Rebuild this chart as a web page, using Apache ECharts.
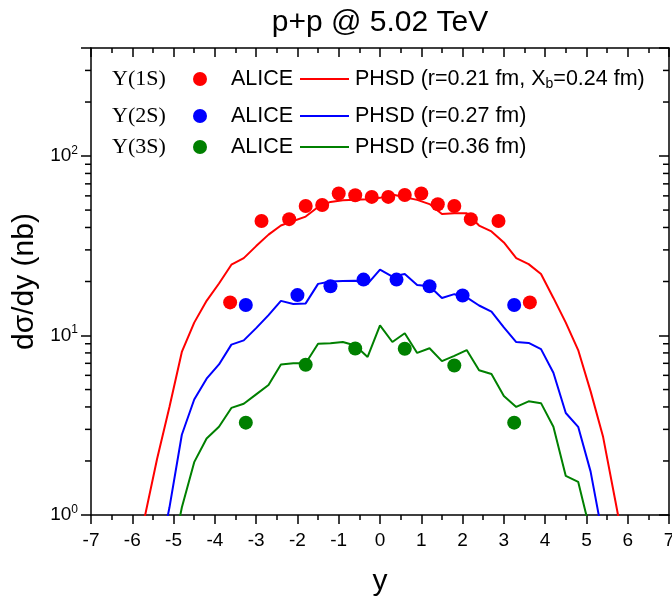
<!DOCTYPE html>
<html><head><meta charset="utf-8">
<script src="https://cdn.jsdelivr.net/npm/echarts@6/dist/echarts.min.js"></script>
<style>html,body{margin:0;padding:0;background:#fff}#c{width:672px;height:596px}</style>
</head><body><div id="c"></div>
<script>
// PHSD model rapidity grid
const phsdY = [-6.0,-5.7,-5.4,-5.1,-4.8,-4.5,-4.2,-3.9,-3.6,-3.3,-3.0,-2.7,-2.4,-2.1,-1.8,-1.5,-1.2,-0.9,-0.6,-0.3,0,0.3,0.6,0.9,1.2,1.5,1.8,2.1,2.4,2.7,3.0,3.3,3.6,3.9,4.2,4.5,4.8,5.1,5.4,5.7,6.0];
const phsd1S = [0.45,0.97,2.05,4.0,8.1,11.8,15.6,19.5,24.8,27,31.5,36.5,41,43.5,46,52,55.5,56.8,57,57.5,58.5,61,59,57,54,47.5,48,48,41,38,33,27,25,22,16.2,11.8,8.3,4.9,2.75,1.2,0.52];
const phsd2S = [null,null,0.5,1.1,2.8,4.4,5.75,6.9,8.9,9.4,11,13,15.6,15,15.1,19.4,20,20.1,20.2,19.4,23.3,21.3,22,19.1,18.8,16.2,17,16.3,14.7,13.6,11.1,9.2,9.1,8.4,6.2,3.7,3.1,1.75,0.75,null,null];
const phsd3S = [null,null,null,0.5,1.1,1.97,2.67,3.1,3.95,4.17,4.7,5.3,6.9,7.0,7.0,9.0,9.07,9.2,8.8,7.6,11.4,9.2,10.3,8.0,8.5,7.2,7.7,8.3,6.4,6.1,4.6,4.0,4.3,4.2,3.1,1.65,1.53,0.8,null,null,null];
// ALICE data
const alice1Sy = [-3.63,-2.87,-2.2,-1.8,-1.4,-1.0,-0.6,-0.2,0.2,0.6,1.0,1.4,1.8,2.2,2.87,3.63];
const alice1S  = [15.3,43.5,44.5,52.7,53.4,61.8,60.5,59.2,59.2,60.7,61.8,53.9,52.7,44.5,43.5,15.3];
const alice2Sy = [-3.25,-2.0,-1.2,-0.4,0.4,1.2,2.0,3.25];
const alice2S  = [14.8,16.8,18.8,20.5,20.5,18.8,16.7,14.8];
const alice3Sy = [-3.25,-1.8,-0.6,0.6,1.8,3.25];
const alice3S  = [3.27,6.87,8.47,8.44,6.81,3.27];
// minor log ticks
const minorLogTicks = [2,3,4,5,6,7,8,9,20,30,40,50,60,70,80,90,200,300];

const RED='#ff0000', BLUE='#0000ff', GREEN='#008000';
const zip = (xs, ys) => xs.map((x,i)=>[x, ys[i]]);

const chart = echarts.init(document.getElementById('c'), null, {renderer:'canvas'});
const F = '"Liberation Sans", Arial, sans-serif';
const SF = '"Liberation Serif", "Times New Roman", serif';
const axisLine = {show:true, onZero:false, lineStyle:{color:'#000', width:1.5}};

const legendRows = [
  {y:79, label:'Υ(1S)', color:RED, model:'PHSD (r=0.21 fm, {i|X}{sub|b}=0.24 fm)'},
  {y:116, label:'Υ(2S)', color:BLUE, model:'PHSD (r=0.27 fm)'},
  {y:147, label:'Υ(3S)', color:GREEN, model:'PHSD (r=0.36 fm)'}
];
const graphics = [
  {type:'text', style:{text:'p+p @ 5.02 TeV', x:380, y:23, align:'center', verticalAlign:'middle', font:'30px '+F, fill:'#000'}}
];
legendRows.forEach(r=>{
  graphics.push({type:'text', style:{text:r.label, x:112, y:r.y, verticalAlign:'middle', font:'22px '+SF, fill:'#000'}});
  graphics.push({type:'circle', shape:{cx:200, cy:r.y, r:7}, style:{fill:r.color}});
  graphics.push({type:'text', style:{text:'ALICE', x:231, y:r.y, verticalAlign:'middle', font:'21.5px '+F, fill:'#000'}});
  graphics.push({type:'line', shape:{x1:300, y1:r.y, x2:349, y2:r.y}, style:{stroke:r.color, lineWidth:2}});
  graphics.push({type:'text', style:{text:r.model, x:355, y:r.y, verticalAlign:'middle', font:'21.5px '+F, fill:'#000',
    rich:{i:{font:'21.5px '+F, fill:'#000'}, sub:{font:'14px '+F, fill:'#000', verticalAlign:'bottom', padding:[11,0,0,0]}}}});
});

const option = {
  animation:false,
  backgroundColor:'#fff',
  grid:{left:91, right:3, top:48, bottom:81, containLabel:false, outerBoundsMode:'none'},
  xAxis:[
    {type:'value', min:-7, max:7, interval:1, position:'bottom',
     name:'y', nameLocation:'middle', nameGap:52, nameTextStyle:{fontFamily:F, fontSize:30, color:'#000'},
     axisLine:axisLine, axisTick:{show:true, inside:false, length:9, lineStyle:{color:'#000', width:1.5}},
     minorTick:{show:true, splitNumber:2, length:5, lineStyle:{color:'#000', width:1.5}},
     axisLabel:{fontFamily:F, fontSize:19, color:'#000', margin:16, showMinLabel:true, showMaxLabel:true},
     splitLine:{show:false}},
    {type:'value', min:-7, max:7, interval:1, position:'top',
     axisLine:axisLine, axisTick:{show:true, inside:true, length:9, lineStyle:{color:'#000', width:1.5}},
     minorTick:{show:true, splitNumber:2, length:5, lineStyle:{color:'#000', width:1.5}},
     axisLabel:{show:false}, splitLine:{show:false}}
  ],
  yAxis:[
    {type:'log', logBase:10, min:1, max:400, position:'left',
     name:'dσ/dy (nb)', nameLocation:'middle', nameGap:43, nameRotate:90,
     nameTextStyle:{fontFamily:F, fontSize:30, color:'#000'},
     axisLine:axisLine, axisTick:{show:true, inside:false, length:10, lineStyle:{color:'#000', width:1.5}},
     axisLabel:{fontFamily:F, fontSize:19, color:'#000', margin:13,
       formatter:(v)=>{const l=Math.log10(v); const e=Math.round(l); if (Math.abs(l-e)>1e-6) return ''; return '{b|10}{s|'+e+'}';},
       rich:{b:{fontFamily:F, fontSize:19, color:'#000'}, s:{fontFamily:F, fontSize:12, color:'#000', verticalAlign:'top', padding:[0,0,11,0]}}},
     splitLine:{show:false}},
    {type:'log', logBase:10, min:1, max:400, position:'right',
     axisLine:axisLine, axisTick:{show:true, inside:true, length:10, lineStyle:{color:'#000', width:1.5}},
     axisLabel:{show:false}, splitLine:{show:false}}
  ],
  graphic:graphics,
  series:[
    {type:'custom', xAxisIndex:0, yAxisIndex:0, silent:true, clip:false, z:1,
     data:minorLogTicks.map(v=>[-7, v]),
     renderItem:(params, api)=>{
       const v = api.value(1);
       const pl = api.coord([-7, v]);
       const pr = api.coord([7, v]);
       return {type:'group', children:[
         {type:'line', shape:{x1:pl[0]-6, y1:pl[1], x2:pl[0], y2:pl[1]}, style:{stroke:'#000', lineWidth:1.5}},
         {type:'line', shape:{x1:pr[0]-6, y1:pr[1], x2:pr[0], y2:pr[1]}, style:{stroke:'#000', lineWidth:1.5}}
       ]};
     }},
    {name:'PHSD 1S', type:'line', data:zip(phsdY, phsd1S), showSymbol:false, symbol:'none', lineStyle:{color:RED, width:2}, z:2},
    {name:'PHSD 2S', type:'line', data:zip(phsdY, phsd2S), showSymbol:false, symbol:'none', lineStyle:{color:BLUE, width:2}, z:2},
    {name:'PHSD 3S', type:'line', data:zip(phsdY, phsd3S), showSymbol:false, symbol:'none', lineStyle:{color:GREEN, width:2}, z:2},
    {name:'ALICE 1S', type:'scatter', data:zip(alice1Sy, alice1S), symbol:'circle', symbolSize:14, itemStyle:{color:RED, opacity:1}, z:3},
    {name:'ALICE 2S', type:'scatter', data:zip(alice2Sy, alice2S), symbol:'circle', symbolSize:14, itemStyle:{color:BLUE, opacity:1}, z:3},
    {name:'ALICE 3S', type:'scatter', data:zip(alice3Sy, alice3S), symbol:'circle', symbolSize:14, itemStyle:{color:GREEN, opacity:1}, z:3}
  ]
};
chart.setOption(option);
</script>
</body></html>
